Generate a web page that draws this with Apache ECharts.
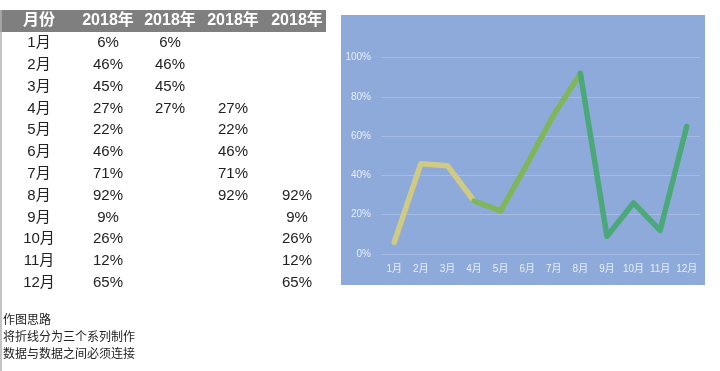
<!DOCTYPE html>
<html><head><meta charset="utf-8">
<script src="https://cdn.jsdelivr.net/npm/echarts@6/dist/echarts.min.js"></script>
<style>html,body{margin:0;padding:0;background:#fff}#c{width:720px;height:371px}</style>
</head><body><div id="c"></div>
<script>
var months = ['1月','2月','3月','4月','5月','6月','7月','8月','9月','10月','11月','12月'];
var headers = ['月份','2018年','2018年','2018年','2018年'];
var allValues = [6,46,45,27,22,46,71,92,9,26,12,65];
var series1 = [6,46,45,27,null,null,null,null,null,null,null,null];
var series2 = [null,null,null,27,22,46,71,92,null,null,null,null];
var series3 = [null,null,null,null,null,null,null,92,9,26,12,65];
var yTicks = [0,20,40,60,80,100];
var notes = ['作图思路','将折线分为三个系列制作','数据与数据之间必须连接'];

var FONT = '"Liberation Sans","Noto Sans CJK SC",sans-serif';
var colX = [39,108,170,233,297];
var rowY0 = 43, rowH = 21.8;
var g = [];
g.push({type:'rect',shape:{x:341,y:15,width:364,height:270},style:{fill:'#8eaadb'},z:-10});
g.push({type:'rect',shape:{x:0,y:10,width:326,height:22},style:{fill:'#7f7f7f'},z:-5});
g.push({type:'line',shape:{x1:1,y1:10,x2:1,y2:371},style:{stroke:'#b0b0b0',lineWidth:1.5},z:-5});
headers.forEach(function(h,i){
  g.push({type:'text',x:colX[i],y:21,style:{text:h,fill:'#fff',font:'bold 16px '+FONT,textAlign:'center',textVerticalAlign:'middle'}});
});
var cols = [allValues, series1, series2, series3];
months.forEach(function(m,r){
  var y = rowY0 + r*rowH;
  g.push({type:'text',x:colX[0],y:y,style:{text:m,fill:'#222',font:'15px '+FONT,textAlign:'center',textVerticalAlign:'middle'}});
  cols.forEach(function(arr,c){
    if(arr[r]!=null) g.push({type:'text',x:colX[c+1],y:y,style:{text:arr[r]+'%',fill:'#222',font:'15px '+FONT,textAlign:'center',textVerticalAlign:'middle'}});
  });
});
notes.forEach(function(t,i){
  g.push({type:'text',x:3,y:319+i*17,style:{text:t,fill:'#222',font:'12px "Noto Sans CJK SC",sans-serif',textVerticalAlign:'middle'}});
});

var lbl = {color:'rgba(255,255,255,0.8)',fontSize:10,fontFamily:FONT};
function ser(d,color){
  return {type:'line',data:d,symbol:'none',connectNulls:false,
    lineStyle:{color:color,width:5.5,cap:'round',join:'round'}};
}
var chart = echarts.init(document.getElementById('c'),null,{renderer:'canvas'});
chart.setOption({
  animation:false,
  graphic:g,
  grid:{left:381,right:20,top:57.7,bottom:117},
  xAxis:{type:'category',data:months,boundaryGap:true,axisLine:{show:false},axisTick:{show:false},
    axisLabel:Object.assign({margin:10,interval:0,hideOverlap:false},lbl)},
  yAxis:{type:'value',min:0,max:100,interval:20,
    axisLabel:Object.assign({formatter:function(v){return v+'%';},margin:10},lbl),
    splitLine:{lineStyle:{color:'#a7bce4',width:1}},axisLine:{show:false},axisTick:{show:false}},
  series:[ser(series1,'#cfcb83'),ser(series2,'#80b65a'),ser(series3,'#4ba879')]
});
</script></body></html>
